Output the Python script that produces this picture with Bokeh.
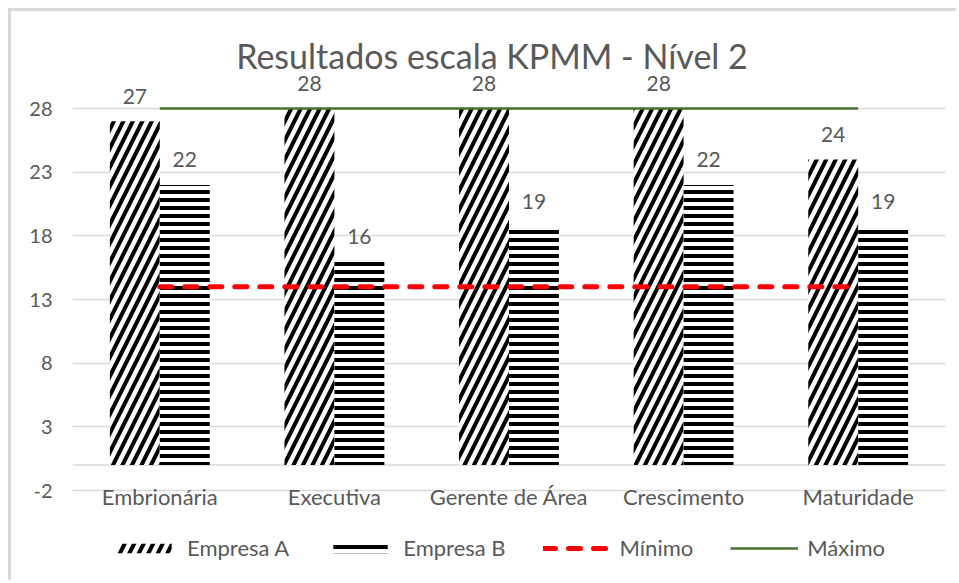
from bokeh.plotting import figure
from bokeh.models import (FactorRange, Range1d, FixedTicker, ColumnDataSource,
                          Legend, LegendItem, Span)
from bokeh.core.properties import value
from bokeh.transform import dodge
from bokeh.embed import file_html
from bokeh.resources import INLINE

categories = ["Embrionária", "Executiva", "Gerente de Área", "Crescimento", "Maturidade"]
empresa_a = [27, 28, 28, 28, 24]
empresa_b = [22, 16, 18.7, 22, 18.7]
labels_a = ["27", "28", "28", "28", "24"]
labels_b = ["22", "16", "19", "22", "19"]
minimo = [14, 14, 14, 14, 14]
maximo = [28, 28, 28, 28, 28]
y_ticks = [-2, 3, 8, 13, 18, 23, 28]
title = "Resultados escala KPMM - Nível 2"

FONT = "Lato"
GRAY = "#595959"
GRID = "#d9d9d9"

src = ColumnDataSource(dict(cat=categories, a=empresa_a, b=empresa_b, la=labels_a, lb=labels_b,
                            mn=minimo, mx=maximo, base=[y_ticks[0]] * len(categories)))

# frame spans the full canvas height; y range chosen so -2 .. 28 fall where the reference has them
p = figure(x_range=FactorRange(*categories, range_padding=0), y_range=Range1d(-9.30, 35.62),
           width=948, height=572, output_backend="svg", toolbar_location=None,
           x_axis_location=None,
           min_border_left=61, min_border_right=14, min_border_top=0, min_border_bottom=0)
p.styles = {"border-left": "3px solid #d9d9d9", "border-top": "3px solid #d9d9d9",
            "margin-left": "8px", "margin-top": "8px"}
p.outline_line_color = None
p.background_fill_color = "white"

W = 0.286
ra = p.vbar(x=dodge("cat", -W / 2, range=p.x_range), top="a", bottom=0, width=W, source=src,
            fill_color="white", line_color=None, hatch_pattern="right_diagonal_line",
            hatch_color="black", hatch_scale=19, hatch_weight=4)
rb = p.vbar(x=dodge("cat", W / 2, range=p.x_range), top="b", bottom=0, width=W, source=src,
            fill_color="white", line_color=None, hatch_pattern="horizontal_line",
            hatch_color="black", hatch_scale=8, hatch_weight=4)

p.add_layout(Span(location=0, dimension="width", line_color=GRID, line_width=1.5, level="underlay"))

rmin = p.line(x="cat", y="mn", source=src, line_color="#ff0000", line_width=5,
              line_dash="12 13", line_cap="round")
rmax = p.line(x="cat", y="mx", source=src, line_color="#4a7030", line_width=2.5)

for col, lab, off in (("a", "la", -W / 2), ("b", "lb", W / 2)):
    p.text(x=dodge("cat", off, range=p.x_range), y=col, text=lab, source=src,
           text_align="center", text_baseline="middle", y_offset=-25,
           text_font=value(FONT), text_font_size="21px", text_color=GRAY)

# category labels under the -2 line
p.text(x="cat", y="base", text="cat", source=src, text_align="center",
       text_baseline="alphabetic", y_offset=6,
       text_font=value(FONT), text_font_size="22px", text_color=GRAY)

# title
p.text(x=[categories[2]], y=[32.16], text=[title], text_align="center", text_baseline="middle",
       x_offset=-17, text_font=value(FONT), text_font_size="34px", text_color=GRAY)

p.yaxis.ticker = FixedTicker(ticks=y_ticks)
p.yaxis.major_label_overrides = {t: str(t) for t in y_ticks}
p.yaxis.axis_line_color = None
p.yaxis.major_tick_line_color = None
p.yaxis.minor_tick_line_color = None
p.yaxis.major_label_text_font = FONT
p.yaxis.major_label_text_font_size = "20px"
p.yaxis.major_label_text_color = GRAY
p.yaxis.major_label_standoff = 14

p.xgrid.grid_line_color = None
p.ygrid.grid_line_color = GRID
p.ygrid.grid_line_width = 1.5

legend = Legend(items=[LegendItem(label="Empresa A", renderers=[ra]),
                       LegendItem(label="Empresa B", renderers=[rb]),
                       LegendItem(label="Mínimo", renderers=[rmin]),
                       LegendItem(label="Máximo", renderers=[rmax])],
                orientation="horizontal", location=(38, 22),
                glyph_width=68, glyph_height=12, label_standoff=9, spacing=37,
                label_text_font=FONT, label_text_font_size="22px", label_text_color=GRAY,
                border_line_color=None, background_fill_alpha=0, padding=0, margin=0)
p.add_layout(legend)

open("out.html", "w").write(file_html(p, INLINE))
